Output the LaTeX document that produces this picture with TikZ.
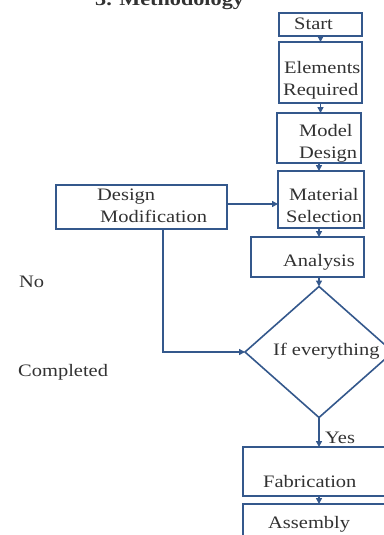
\documentclass[tikz,border=0pt]{standalone}
\usepackage{fontspec}
\setmainfont{Liberation Serif}[FakeStretch=1.17]
\usetikzlibrary{arrows.meta,shapes.geometric}
\definecolor{fc}{RGB}{52,88,140}
\definecolor{tc}{RGB}{50,50,50}
\begin{document}
\begin{tikzpicture}[x=1pt,y=-1pt,
  box/.style={draw=fc,line width=1.6pt,inner sep=0pt,outer sep=0pt},
  arr/.style={draw=fc,line width=1.6pt,-{Triangle[length=6pt,width=6pt]}},
  lin/.style={draw=fc,line width=1.6pt},
  txt/.style={anchor=base west,inner sep=0pt,text=tc,font=\fontsize{17.5}{21}\selectfont}]
\useasboundingbox (0,0) rectangle (383,535);
% title (cut off)
\node[anchor=base west,inner sep=0pt,text=tc,font=\fontsize{19}{22}\selectfont\bfseries] (title) at (95,6) {3. Methodology};
% boxes
\node[box,minimum width=83pt,minimum height=23pt] (start) at (320.5,24.5) {};
\node[box,minimum width=83pt,minimum height=61pt] (elem) at (320.5,72.5) {};
\node[box,minimum width=84pt,minimum height=50pt] (model) at (319,138) {};
\node[box,minimum width=86pt,minimum height=57pt] (mat) at (321,199.5) {};
\node[box,minimum width=113pt,minimum height=40pt] (ana) at (307.5,257) {};
\node[box,minimum width=171pt,minimum height=44pt] (dm) at (141.5,207) {};
\node[box,shape=diamond,minimum width=148pt,minimum height=131pt] (dia) at (319,352) {};
\node[box,minimum width=157pt,minimum height=49pt] (fab) at (321.5,471.5) {};
\node[box,minimum width=157pt,minimum height=56pt] (asm) at (321.5,532) {};
% texts
\node[txt] (t1) at (294,30) {Start};
\node[txt] (t2) at (284,74) {Elements};
\node[txt] (t3) at (283,95) {Required};
\node[txt] (t4) at (299,136) {Model};
\node[txt] (t5) at (299,158) {Design};
\node[txt] (t6) at (289,200.5) {Material};
\node[txt] (t7) at (286,222.5) {Selection};
\node[txt] (t8) at (97,200.5) {Design};
\node[txt] (t9) at (100,222.5) {Modification};
\node[txt] (t10) at (283,266) {Analysis};
\node[txt] (t11) at (273,355) {If everything};
\node[txt] (t12) at (325,443) {Yes};
\node[txt] (t13) at (263,487) {Fabrication};
\node[txt] (t14) at (268,528) {Assembly};
\node[txt] (t15) at (19,287) {No};
\node[txt] (t16) at (18,376) {Completed};
% connectors
\coordinate (ys) at (0,204);
\coordinate (kx) at (163,0);
\draw[arr] (start.south) -- (start.south |- elem.north);
\draw[arr] (elem.south) -- (elem.south |- model.north);
\draw[arr] (model.south) -- (model.south |- mat.north);
\draw[arr] (mat.south -| dia.north) -- (ana.north -| dia.north);
\draw[arr] (ana.south -| dia.north) -- (dia.north);
\draw[arr] (dm.east |- ys) -- (mat.west |- ys);
\draw[arr] (dm.south -| kx) |- (dia.west);
\draw[arr] (dia.south) -- (dia.south |- fab.north);
\draw[arr] (fab.south -| dia.south) -- (asm.north -| dia.south);
\end{tikzpicture}
\end{document}
